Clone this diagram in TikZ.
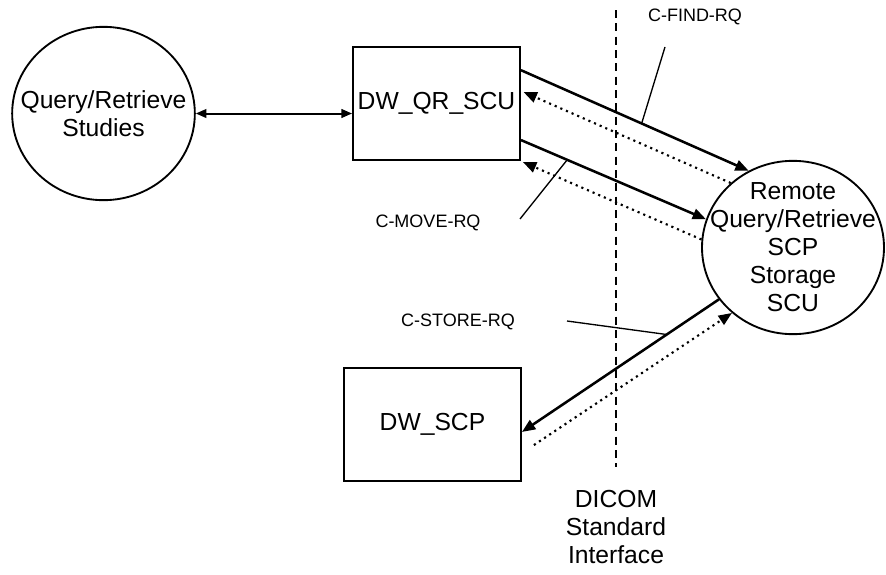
\documentclass[tikz,border=0pt]{standalone}
\usepackage{fontspec}
\setmainfont{Liberation Sans}
\usetikzlibrary{shapes.geometric,arrows.meta}

\begin{document}
\begin{tikzpicture}[x=0.75pt, y=-0.75pt,
  actor/.style={ellipse, draw, line width=1.4pt, inner xsep=-20pt, inner ysep=-20pt,
    minimum width=137pt, minimum height=130pt, align=center,
    font=\fontsize{18.5}{21}\selectfont},
  procbox/.style={rectangle, draw, line width=1.4pt, minimum height=84.75pt,
    font=\fontsize{18.5}{21}\selectfont},
  msglabel/.style={font=\fontsize{13.5}{16}\selectfont},
  linkarr/.style={{Triangle[length=8pt,width=6.5pt]}-{Triangle[length=8pt,width=6.5pt]}, line width=1.5pt},
  reqarr/.style={-{Triangle[length=10pt,width=8pt]}, line width=1.9pt},
  rsparr/.style={-{Triangle[length=10pt,width=8pt]}, line width=1.6pt,
    dash pattern=on 1.6pt off 3pt},
  leader/.style={line width=1pt},
  boundary/.style={line width=1.3pt, dash pattern=on 6pt off 4pt},
]
\useasboundingbox (0,0) rectangle (886,575);

% ============================================================
% Nodes
% ============================================================
\node[actor] (qrs) at (103.5,113.5) {Query/Retrieve\\Studies};
\node[procbox, minimum width=125.25pt] (qr) at (436.5,103.5) {DW\_QR\_SCU};
\node[procbox, minimum width=132.75pt] (scp) at (432.5,424.5) {DW\_SCP};
\node[actor, minimum width=136.5pt] (remote) at (793,247.5)
  {Remote\\Query/Retrieve\\SCP\\Storage\\SCU};

% DICOM boundary
\coordinate (itop) at (616,10);
\coordinate (ibot) at (616,467);
\draw[boundary] (itop) -- (ibot);
\node[align=center, font=\fontsize{18.5}{21}\selectfont] (iface) at (616,527)
  {DICOM\\Standard\\Interface};

% ============================================================
% Connectors
% ============================================================
\draw[linkarr] (qrs.east) -- (qrs.east -| qr.west);

% find
\draw[reqarr] ([yshift=25pt]qr.east) -- coordinate[pos=0.53] (findpt) (remote.120.8);
\draw[rsparr] (remote.134.4) -- ([xshift=2pt,yshift=8.6pt]qr.east);

% move
\draw[reqarr] ([yshift=-27.4pt]qr.east) -- coordinate[pos=0.25] (movept) (remote.162);
\draw[rsparr] (remote.175) -- ([xshift=1.5pt,yshift=-43.9pt]qr.east);

% store
\draw[reqarr] (remote.215.5) -- coordinate[pos=0.265] (storept) ([yshift=-5.6pt]scp.east);
\draw[rsparr] ([xshift=9pt,yshift=-15.4pt]scp.east) -- (remote.227.3);

% ============================================================
% Message labels
% ============================================================
\node[msglabel] (findlbl) at (695,17) {C-FIND-RQ};
\node[msglabel] (movelbl) at (428,223) {C-MOVE-RQ};
\node[msglabel] (storelbl) at (458,322) {C-STORE-RQ};

\coordinate (findtip) at (665,47);
\coordinate (movetip) at (520,219);
\coordinate (storetip) at (567,321);

\draw[leader] (findtip) -- (findpt);
\draw[leader] (movetip) -- (movept);
\draw[leader] (storetip) -- (storept);

\end{tikzpicture}
\end{document}
